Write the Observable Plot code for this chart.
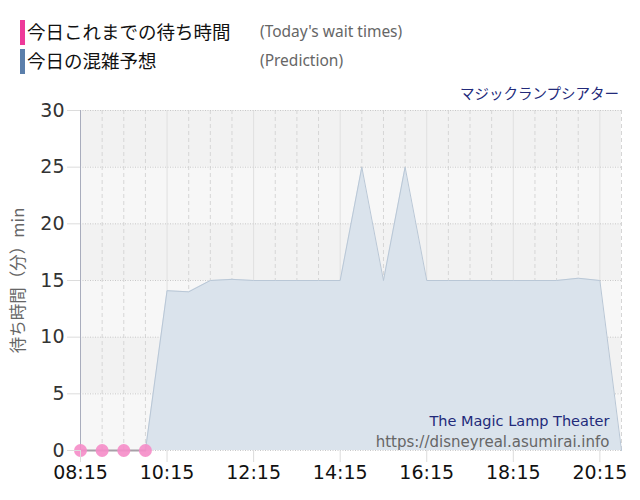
<!DOCTYPE html>
<html><head><meta charset="utf-8">
<script src="https://cdn.jsdelivr.net/npm/d3@7"></script>
<script src="https://cdn.jsdelivr.net/npm/@observablehq/plot@0.6"></script>
<style>
body{margin:0;background:#fff;width:640px;height:500px;overflow:hidden;font-family:"Noto Sans CJK JP",sans-serif;}
#head{position:relative;height:100px;width:640px;}
.bar{position:absolute;left:20px;width:5px;height:25px;}
.jp{position:absolute;left:27px;font-size:18.5px;color:#111;line-height:25px;white-space:nowrap;}
.en{position:absolute;left:260px;font-size:15.5px;color:#666;line-height:25px;font-family:"Noto Sans",sans-serif;white-space:nowrap;}
#title{position:absolute;right:21px;top:82px;font-size:14.5px;color:#222a7a;line-height:22px;white-space:nowrap;}
#chart svg{display:block;}
</style>
</head><body>
<div id="head">
  <div class="bar" style="top:20px;background:#ee3a9a"></div>
  <div class="jp" style="top:19px">今日これまでの待ち時間</div>
  <div class="en" style="top:19px">(Today's wait times)</div>
  <div class="bar" style="top:49px;background:#5b7fab"></div>
  <div class="jp" style="top:48px">今日の混雑予想</div>
  <div class="en" style="top:48px">(Prediction)</div>
  <div id="title">マジックランプシアター</div>
</div>
<div id="chart"></div>
<script>
// ---- data ----
const xTickLabels = ["08:15","10:15","12:15","14:15","16:15","18:15","20:15"];
const yTicks = [0,5,10,15,20,25,30];
const xStart = "08:15", xEnd = "20:45";

const actualTimes  = ["08:15","08:45","09:15","09:45"];
const actualValues = [0,0,0,0];

const predTimes  = ["09:45","10:15","10:45","11:15","11:45","12:15","12:45","13:15","13:45","14:15","14:45","15:15","15:45","16:15","16:45","17:15","17:45","18:15","18:45","19:15","19:45","20:15","20:45"];
const predValues = [0,14.1,14.0,15.0,15.1,15.0,15.0,15.0,15.0,15.0,25.0,15.0,25.0,15.0,15.0,15.0,15.0,15.0,15.0,15.0,15.2,15.0,0];

const attractionName = "The Magic Lamp Theater";
const siteUrl = "https://disneyreal.asumirai.info";
const yLabel = "待ち時間（分）min";

// ---- helpers ----
const toMin = s => { const [h,m] = s.split(":").map(Number); return h*60+m; };
const fmt = m => String(Math.floor(m/60)).padStart(2,"0")+":"+String(m%60).padStart(2,"0");
const x0 = toMin(xStart), x1 = toMin(xEnd);
const pred = predTimes.map((t,i)=>({t:toMin(t), v:predValues[i]}));
const actual = actualTimes.map((t,i)=>({t:toMin(t), v:actualValues[i]}));
const majorTicks = xTickLabels.map(toMin);
const halfHours = d3.range(x0, x1+1, 30);
const minorTicks = halfHours.filter(m => !majorTicks.includes(m) && m !== x0);
const bands = yTicks.slice(0,-1).map((y,i)=>({lo:y, hi:yTicks[i+1], dark:i%2===1}));

const chart = Plot.plot({
  width: 640, height: 400,
  marginTop: 10, marginBottom: 50, marginLeft: 80, marginRight: 19,
  style: {fontFamily: "'DejaVu Sans', sans-serif", background: "transparent"},
  x: {domain: [x0, x1]},
  y: {domain: [0, 30]},
  marks: [
    Plot.rect(bands.filter(d=>d.dark), {x1: ()=>x0, x2: ()=>x1, y1: "lo", y2: "hi", fill: "#f2f2f2"}),
    Plot.rect(bands.filter(d=>!d.dark), {x1: ()=>x0, x2: ()=>x1, y1: "lo", y2: "hi", fill: "#f7f7f7"}),
    Plot.ruleX(minorTicks, {stroke: "#d6d6d6", strokeDasharray: "4,3"}),
    Plot.ruleX(majorTicks, {stroke: "#e0e0e0"}),
    Plot.ruleY(yTicks, {stroke: "#c8c8c8", strokeDasharray: "1,1.5"}),
    Plot.areaY(pred, {x: "t", y: "v", fill: "#dae3ec"}),
    Plot.lineY(pred, {x: "t", y: "v", stroke: "#b9c7d6", strokeWidth: 1}),
    Plot.ruleX([x0], {stroke: "#a9adbd"}),
    Plot.lineY(actual, {x: "t", y: "v", stroke: "#a8a0a8", strokeWidth: 2}),
    Plot.dot(actual, {x: "t", y: "v", r: 6.5, fill: "#f58cc8", fillOpacity: 0.9}),
    Plot.axisX(majorTicks, {tickFormat: fmt, tickSize: 12, stroke: "#dcdcdc", fontSize: 19, fill: "#111", tickPadding: 3, label: null}),
    Plot.axisY(yTicks, {tickSize: 13, stroke: "#dcdcdc", fontSize: 19, fill: "#333", tickPadding: 3, label: null}),
    Plot.text([yLabel], {frameAnchor: "left", dx: -62, rotate: -90, textAnchor: "middle", fontSize: 16.5, fill: "#666", fontFamily: "'Noto Sans CJK JP', sans-serif"}),
    Plot.text([attractionName], {frameAnchor: "bottom-right", dx: -12, dy: -25, lineAnchor: "bottom", fontSize: 14.5, fill: "#222a7a"}),
    Plot.text([siteUrl], {frameAnchor: "bottom-right", dx: -12, dy: -4, lineAnchor: "bottom", fontSize: 15, fill: "#666"})
  ]
});
document.getElementById("chart").appendChild(chart);
</script>
</body></html>
